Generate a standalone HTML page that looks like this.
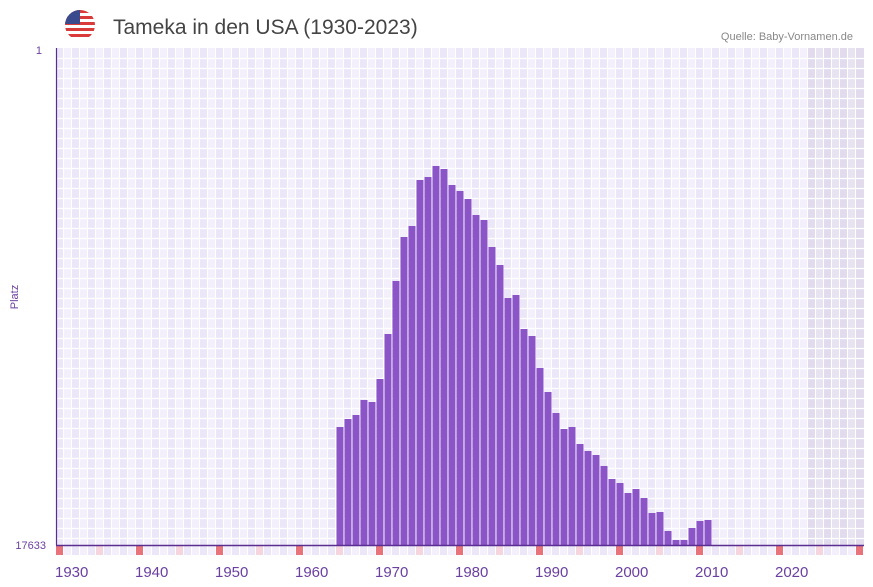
<!DOCTYPE html>
<html><head><meta charset="utf-8"><style>
body{margin:0;background:#fff;width:873px;height:587px;overflow:hidden;font-family:"Liberation Sans",sans-serif}
svg{display:block}
</style></head><body>
<svg id="c" width="873" height="587">
<g>
<clipPath id="fc"><circle cx="80" cy="25" r="15"/></clipPath>
<g clip-path="url(#fc)">
<rect x="65" y="10" width="30" height="30" fill="#fff"/>
<rect x="65" y="10" width="30" height="3" fill="#d93a3a"/>
<rect x="65" y="16" width="30" height="3" fill="#d93a3a"/>
<rect x="65" y="22" width="30" height="3" fill="#d93a3a"/>
<rect x="65" y="28" width="30" height="3" fill="#d93a3a"/>
<rect x="65" y="34" width="30" height="3" fill="#d93a3a"/>
<rect x="65" y="10" width="15" height="14" fill="#3b4a8c"/>
</g></g>
<text x="113" y="34" font-size="21" fill="#444">Tameka in den USA (1930-2023)</text>
<text x="853" y="40" font-size="11" fill="#888" text-anchor="end">Quelle: Baby-Vornamen.de</text>
<text x="42" y="54" font-size="11" fill="#6a3fa0" text-anchor="end">1</text>
<text x="46" y="549" font-size="11" fill="#6a3fa0" text-anchor="end">17633</text>
<text x="18" y="297" font-size="11" fill="#6a3fa0" text-anchor="middle" transform="rotate(-90 18 297)">Platz</text>
<g id="bg"></g><g id="bars"></g><g id="strip"></g><g id="xl"></g>
<line x1="56.5" y1="48" x2="56.5" y2="545" stroke="#5a2d91" stroke-width="1.2"/>
<line x1="56" y1="545.5" x2="864" y2="545.5" stroke="#5a2d91" stroke-width="1.5"/>
</svg>
<script>
const years=[1965,1966,1967,1968,1969,1970,1971,1972,1973,1974,1975,1976,1977,1978,1979,1980,1981,1982,1983,1984,1985,1986,1987,1988,1989,1990,1991,1992,1993,1994,1995,1996,1997,1998,1999,2000,2001,2002,2003,2004,2005,2006,2007,2008,2009,2010,2011];
const topPx=[427,419,415,400,402,379,334,281,237,226,180,177,166,169,185,191,199,215,220,247,265,298,295,329,336,368,392,413,429,427,444,451,455,466,479,483,493,489,498,513,512,531,540,540,528,521,520];
const ranks=topPx.map(p=>Math.round(1+(p-48)/497*17632));
const xLabels=[1930,1940,1950,1960,1970,1980,1990,2000,2010,2020];
const RMAX=17633,Y0=48,Y1=545,X0=56,CW=8,Y_START=1930;
const NS="http://www.w3.org/2000/svg";
function xs(y){return X0+(y-Y_START)*CW}
function ys(r){return Y0+(r-1)/(RMAX-1)*(Y1-Y0)}
function mk(t,a,p){const e=document.createElementNS(NS,t);for(const k in a)e.setAttribute(k,a[k]);p.appendChild(e);return e}
const bg=document.getElementById('bg');
for(let y=1930;y<=2030;y++){
 const r=mk('rect',{x:xs(y),y:Y0,width:CW,height:Y1-Y0,fill:(y%2? '#f3f0fc':'#ece7f8')},bg);
 
 
}
const sh=mk('rect',{x:xs(2024),y:Y0,width:864-xs(2024),height:Y1-Y0,fill:'#b8b0c4','fill-opacity':0.2},bg);


for(let x=X0+CW;x<864;x+=CW)mk('line',{x1:x-0.5,y1:Y0,x2:x-0.5,y2:Y1,stroke:'#fff','stroke-width':1},bg);
for(let y=Y0+10;y<Y1;y+=10)mk('line',{x1:X0,y1:y+0.5,x2:864,y2:y+0.5,stroke:'#fff','stroke-width':1.2},bg);
const bars=document.getElementById('bars');
years.forEach((yr,i)=>{
 const t=ys(ranks[i]);
 const b=mk('rect',{x:xs(yr)+0.5,y:t,width:CW-1,height:Y1-t,fill:'#8b54c7'},bars);
 
 
});
const st=document.getElementById('strip');
for(let y=1930;y<=2030;y++){
 let f=y%10==0?'#e8737a':(y%5==0?'#f5d5de':(y%2?'#f3f0fc':'#ece7f8'));
 const r=mk('rect',{x:xs(y),y:546,width:CW-1,height:9,fill:f},st);
 
 
}
const xl=document.getElementById('xl');
xLabels.forEach(v=>{
 const t=mk('text',{x:xs(v)-1,y:577,'font-size':15,fill:'#6a3fa0'},xl);
 t.textContent=v;
 
 
});
</script>
</body></html>
